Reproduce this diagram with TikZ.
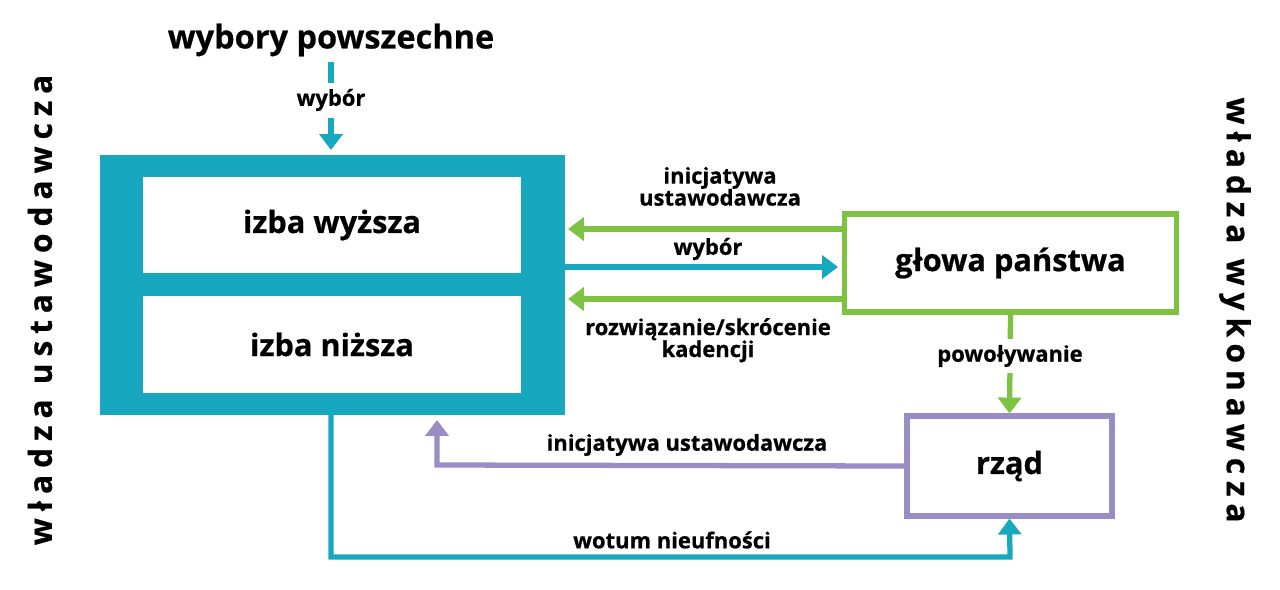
\documentclass[tikz,border=0pt]{standalone}
\usepackage{fontspec}
\setmainfont{Open Sans}[FakeBold=0.6]
\usetikzlibrary{arrows.meta,positioning}
\definecolor{teal1}{HTML}{17A7BF}
\definecolor{green1}{HTML}{7EC242}
\definecolor{purple1}{HTML}{9A8DC5}
\tikzset{
  lbl/.style={font=\fontsize{12.5}{14.5}\selectfont\bfseries, align=center},
  big/.style={font=\fontsize{17.5}{21}\selectfont\bfseries},
  box/.style={draw, line width=3pt, fill=white},
  conn/.style={line width=3pt, -{Triangle[length=9pt,width=13pt]}},
  side/.style={font=\fontsize{18}{20}\selectfont\bfseries\addfontfeature{LetterSpace=22}}
}
\begin{document}
\begin{tikzpicture}[x=0.02cm,y=-0.02cm]
\useasboundingbox (0,0) rectangle (1280,589);
% legislature
\fill[teal1] (100,155) rectangle (565,415);
\node[big, fill=white, minimum width=378*0.02cm, minimum height=96*0.02cm] (upper) at (332,225) {izba wyższa};
\node[big, fill=white, minimum width=378*0.02cm, minimum height=97*0.02cm] (lower) at (332,344.5) {izba niższa};
\coordinate (legtop) at (331,150);
\coordinate (legbot) at (331,415);

% executive
\node[box, big, draw=green1, minimum width=332*0.02cm, minimum height=98*0.02cm] (head) at (1010.5,263) {głowa państwa};
\node[box, big, draw=purple1, minimum width=205*0.02cm, minimum height=100*0.02cm] (gov) at (1009.5,466) {rząd};

% elections
\node[font=\fontsize{18.5}{22}\selectfont\bfseries] (vote) at (331,40) {wybory powszechne};
\draw[conn, teal1, dash pattern=on 12pt off 4pt] (331,62) -- (legtop);
\node[lbl, fill=white] at (331,100) {wybór};

% head of state <-> parliament
\draw[conn, green1] (head.west |- 0,229) -- (568,229);
\node[lbl, above] at (720,212) {inicjatywa\\[-2pt]ustawodawcza};
\draw[conn, teal1] (565,267) -- (838,267);
\node[lbl] at (708,249) {wybór};
\draw[conn, green1] (head.west |- 0,299) -- (568,299);
\node[lbl, below] at (708,312) {rozwiązanie/skrócenie\\[-2pt]kadencji};

% head of state -> government
\draw[conn, green1] (head.south) -- (gov.north);
\node[lbl, fill=white] at (1010,356) {powoływanie};

% government -> parliament
\draw[conn, purple1] (gov.west) -- (437,465) -- (437,420);
\node[lbl] at (687,445) {inicjatywa ustawodawcza};

% parliament -> government
\draw[conn, teal1] (legbot) -- (331,557) -- (1010,557) -- (gov.south);
\node[lbl] at (672,540) {wotum nieufności};

% sides
\node[side, rotate=90] at (40,310) {władza ustawodawcza};
\node[side, rotate=-90] at (1235,310) {władza wykonawcza};
\end{tikzpicture}
\end{document}
